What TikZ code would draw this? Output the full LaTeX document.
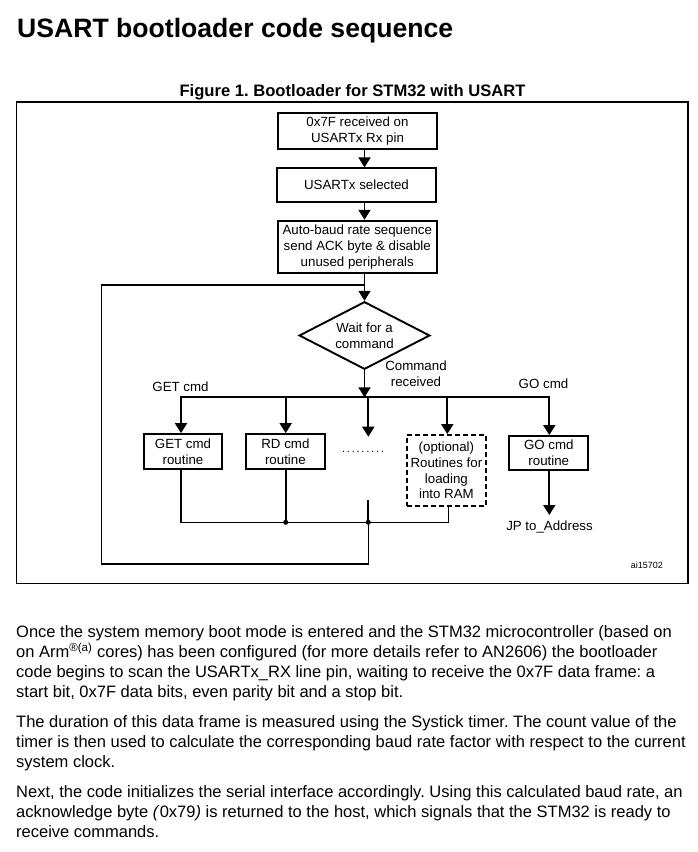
\documentclass[tikz,border=0pt]{standalone}
\usepackage{fontspec}
\setmainfont{Liberation Sans}
\usetikzlibrary{arrows.meta,shapes.geometric}
\frenchspacing

\tikzset{
  box/.style={draw, line width=1.9pt, inner sep=0pt, align=center, font=\fontsize{13.3}{15.8}\selectfont},
  dashbox/.style={box, dash pattern=on 5pt off 3pt},
  lbl/.style={inner sep=0pt, font=\fontsize{13.3}{16}\selectfont},
  body/.style={anchor=base west, inner sep=0pt, font=\fontsize{16.5}{20}\selectfont},
  flow/.style={line width=1.9pt},
  arr/.style={flow, -{Triangle[width=12pt,length=10pt]}},
  thinline/.style={line width=1.2pt},
  loopline/.style={line width=1.4pt},
  junction/.style={circle, fill, inner sep=0pt, minimum size=5pt},
}

\begin{document}
\begin{tikzpicture}[x=1pt, y=-1pt]

    \useasboundingbox (0,0) rectangle (697,852);

    % heading and caption
    \node[anchor=base west, inner sep=0pt, font=\fontsize{26.6}{32}\selectfont\bfseries] (title) at (17,37) {USART bootloader code sequence};
    \node[anchor=base, inner sep=0pt, font=\fontsize{16.6}{20}\selectfont\bfseries] (caption) at (352.5,96.7) {Figure 1. Bootloader for STM32 with USART};

    % figure frame
    \draw[line width=1.3pt] (16.7,102) rectangle (688,583.3);

    % start sequence
    \node[box, minimum width=158.4pt, minimum height=36pt] (rx) at (357.5,131.3) {0x7F received on\\USARTx Rx pin};
    \node[box, minimum width=158.4pt, minimum height=33.4pt] (sel) at (356.5,185) {USARTx selected};
    \node[box, minimum width=158.7pt, minimum height=52.6pt] (baud) at (357.3,247) {Auto-baud rate sequence\\send ACK byte \& disable\\unused peripherals};
    \node[box, shape=diamond, aspect=2, minimum width=130.7pt, minimum height=67.6pt] (wait) at (364.5,335.5) {Wait for a\\command};

    % command routines
    \node[box, minimum width=78.6pt, minimum height=35.3pt] (get) at (183,451.7) {GET cmd\\routine};
    \node[box, minimum width=79.3pt, minimum height=35.3pt] (rd) at (285.4,451.7) {RD cmd\\routine};
    \node[anchor=base, inner sep=0pt, font=\fontsize{11}{13}\selectfont] (dots) at (363,452) {\makebox[46pt]{\dotfill}};
    \node[dashbox, minimum width=79.3pt, minimum height=70.7pt] (opt) at (446.4,470.4) {(optional)\\Routines for\\loading\\into RAM};
    \node[box, minimum width=79pt, minimum height=34pt] (go) at (548.8,453) {GO cmd\\routine};

    % labels
    \node[lbl, anchor=base] (getlbl) at (180.5,391.7) {GET cmd};
    \node[lbl, anchor=base] (cmdlbl) at (416,370.7) {Command};
    \node[lbl, anchor=base] (rcvlbl) at (416,386.7) {received};
    \node[lbl, anchor=base] (golbl) at (543.5,388.3) {GO cmd};
    \node[lbl, anchor=base] (jp) at (549.5,530) {JP to\_Address};
    \node[anchor=base east, inner sep=0pt, font=\fontsize{9}{11}\selectfont] (ref) at (663,568) {ai15702};

    % bus and collector points
    \coordinate (join) at (364.5,285);
    \coordinate (bget) at (181,397.3);
    \coordinate (brd) at (285.7,397.3);
    \coordinate (bdots) at (368.3,397.3);
    \coordinate (bopt) at (447.3,397.3);
    \coordinate (bgo) at (549.3,397.3);
    \coordinate (dtip) at (368.3,436.7);
    \coordinate (dstart) at (368.3,500);
    \coordinate (crd) at (285.7,522.3);
    \coordinate (cdots) at (368.3,522.3);
    \coordinate (copt) at (448.3,522.3);
    \coordinate (lcorner) at (101.7,564);
    \coordinate (jptip) at (549.3,515);

    % main flow
    \draw[arr] (rx.south -| join) -- (sel.north -| join);
    \draw[arr] (sel.south -| join) -- (baud.north -| join);
    \draw[arr] (baud.south -| join) -- (wait.north);
    \draw[arr] (wait.south) -- (wait.south |- bget);

    % branches
    \draw[flow, {Triangle[width=12pt,length=10pt]}-{Triangle[width=12pt,length=10pt]}] (get.north -| bget) -- (bget) -- (bgo) -- (go.north -| bgo);
    \draw[arr] (brd) -- (rd.north -| brd);
    \draw[arr] (bdots) -- (dtip);
    \draw[arr] (bopt) -- (opt.north -| bopt);
    \draw[arr] (go.south -| bgo) -- (jptip);

    % back to waiting
    \draw[thinline] (get.south -| bget) |- (copt) -- (opt.south -| copt);
    \draw[flow] (rd.south -| brd) -- (crd);
    \draw[flow] (dstart) -- (cdots);
    \draw[loopline] (cdots) |- (lcorner) |- (join);
    \node[junction] (jrd) at (crd) {};
    \node[junction] (jdots) at (cdots) {};

    % body text
    \node[body] (l1) at (16,637.3) {Once the system memory boot mode is entered and the STM32 microcontroller (based on};
    \node[body] (l2) at (16,657.3) {on Arm\textsuperscript{®(a)} cores) has been configured (for more details refer to AN2606) the bootloader};
    \node[body] (l3) at (16,677.3) {code begins to scan the USARTx\_RX line pin, waiting to receive the 0x7F data frame: a};
    \node[body] (l4) at (16,697.3) {start bit, 0x7F data bits, even parity bit and a stop bit.};
    \node[body] (l5) at (16,727.3) {The duration of this data frame is measured using the Systick timer. The count value of the};
    \node[body] (l6) at (16,747.3) {timer is then used to calculate the corresponding baud rate factor with respect to the current};
    \node[body] (l7) at (16,767.3) {system clock.};
    \node[body] (l8) at (16,797.3) {Next, the code initializes the serial interface accordingly. Using this calculated baud rate, an};
    \node[body] (l9) at (16,817.3) {acknowledge byte \textit{(}0x79\textit{)} is returned to the host, which signals that the STM32 is ready to};
    \node[body] (l10) at (16,837.3) {receive commands.};

\end{tikzpicture}
\end{document}
